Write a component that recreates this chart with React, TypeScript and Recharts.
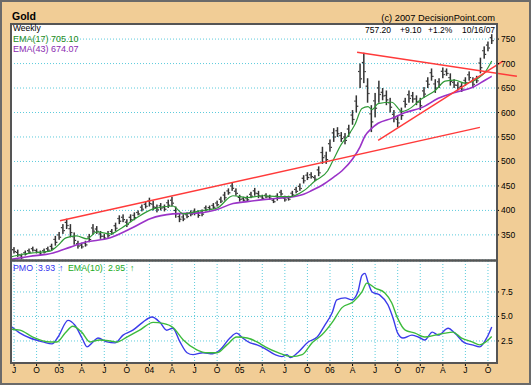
import React from 'react';
import { ComposedChart, Bar, Line, XAxis, YAxis, CartesianGrid, ReferenceLine } from 'recharts';

// x values are months since July 2002
const quarterTicks = [0, 3, 6, 9, 12, 15, 18, 21, 24, 27, 30, 33, 36, 39, 42, 45, 48, 51, 54, 57, 60, 63];
const quarterLabels = ['J', 'O', '03', 'A', 'J', 'O', '04', 'A', 'J', 'O', '05', 'A', 'J', 'O', '06', 'A', 'J', 'O', '07', 'A', 'J', 'O'];
const priceTicks = [350, 400, 450, 500, 550, 600, 650, 700, 750];
const pmoTicks = [2.5, 5, 7.5];

// half-month price bars starting mid-June 2002
const firstHalfMonth = -0.5;
const priceLow = [
  315, 312, 305, 300, 308, 312, 316, 312, 308, 312, 316, 318, 328, 340, 352, 362, 345, 330, 322, 322,
  326, 335, 350, 352, 342, 340, 344, 350, 358, 372, 376, 366, 376, 380, 390, 398, 404, 408, 400, 396,
  400, 398, 405, 408, 385, 376, 378, 384, 388, 390, 385, 388, 398, 400, 403, 408, 415, 420, 432, 440,
  430, 418, 418, 418, 425, 430, 425, 422, 425, 422, 415, 420, 430, 418, 420, 428, 435, 440, 455, 462,
  465, 460, 470, 495, 495, 520, 540, 550, 540, 535, 550, 575, 600, 650, 660, 620, 560, 590, 620, 625,
  615, 600, 580, 570, 585, 610, 620, 620, 615, 605, 630, 650, 665, 640, 650, 670, 675, 655, 650, 645,
  642, 655, 665, 650, 660, 680, 710, 725, 740,
];
const priceHigh = [
  327, 325, 320, 312, 318, 322, 326, 322, 318, 322, 326, 332, 348, 356, 372, 383, 372, 355, 338, 334,
  338, 352, 372, 368, 358, 352, 358, 362, 375, 390, 392, 382, 392, 396, 400, 412, 418, 426, 420, 412,
  415, 412, 422, 428, 408, 394, 392, 396, 400, 404, 400, 402, 410, 410, 415, 420, 428, 438, 445, 456,
  445, 432, 428, 430, 438, 446, 440, 432, 435, 432, 425, 435, 442, 430, 430, 440, 448, 455, 472, 478,
  478, 472, 490, 530, 520, 545, 568, 570, 560, 558, 575, 605, 635, 700, 722, 670, 615, 640, 665, 650,
  645, 630, 605, 595, 610, 630, 645, 642, 635, 630, 652, 672, 690, 668, 670, 692, 690, 680, 668, 662,
  660, 672, 684, 672, 675, 712, 735, 745, 760,
];

const ema17Months = [-0.4, 1, 3, 4.8, 5.8, 6.9, 8.3, 9.7, 11, 12.8, 14.1, 16.3, 18.5, 21.1, 22.5, 24.7, 27, 29.1, 31, 33.1, 35, 36.7, 38.5, 40, 41.7, 42.5, 43.5, 44.5, 45.3, 46.25, 47.05, 47.6, 48.4, 50.2, 51.6, 52.4, 54.2, 56, 57.3, 58.6, 59.9, 61.7, 62.6, 63.5];
const ema17Values = [305, 310, 314, 317, 328, 344, 348, 342, 356, 352, 362, 385, 403, 409, 393, 399, 405, 430, 426, 430, 428, 428, 440, 460, 481, 505, 535, 555, 575, 608, 612, 606, 618, 621, 602, 606, 628, 645, 664, 666, 660, 670, 682, 705.1];

const ema43Months = [-0.4, 2, 5.2, 7.5, 9.2, 12.8, 15.8, 18.1, 21.1, 24.7, 27, 29.1, 31, 33.1, 35, 36.7, 38.5, 39.5, 41.3, 42.5, 43.6, 45, 46, 46.65, 47.5, 48.4, 50.2, 52, 54.2, 56.4, 58.6, 60.9, 62.6, 63.5];
const ema43Values = [300, 306, 313, 325, 334, 344, 365, 383, 393, 395, 402, 414, 418, 422, 425, 427, 433, 440, 455, 468, 481, 505, 530, 552, 567, 578, 588, 600, 610, 629, 641, 651, 666, 674.07];

const pmoMonths = [-0.27, 0.8, 2.13, 3.85, 5.05, 5.85, 7.18, 8.1, 9.04, 9.7, 10.5, 11.16, 12.36, 13.42, 14.5, 15.8, 17.1, 18.34, 19.4, 20.3, 21.1, 22.06, 23, 23.8, 25.1, 26.4, 27.4, 28.7, 29.6, 30.4, 31.4, 32.3, 33.4, 34.7, 35.6, 36.3, 36.7, 37.7, 39.1, 40.3, 41.3, 42.3, 42.9, 44, 44.9, 45.7, 46.25, 46.65, 47.05, 47.6, 48.6, 49.7, 50.4, 51, 51.7, 52.9, 54, 54.6, 55.6, 56.4, 57.7, 58.6, 59.9, 60.9, 61.9, 62.9, 63.5];
const pmoValues = [3.93, 3.3, 2.8, 2.4, 2.2, 2.9, 4.6, 4.1, 2.8, 1.9, 2.4, 2.8, 2.4, 2.3, 3.1, 3.6, 4.4, 4.95, 4.4, 3.6, 3.8, 2.4, 1.3, 1.1, 1.3, 1.2, 1.6, 2.8, 3.3, 2.8, 2.3, 2.1, 1.7, 1.1, 0.9, 1.1, 0.8, 1.3, 2.4, 2.9, 4.1, 5.4, 6.7, 6.9, 6.7, 7.5, 9.2, 9.4, 8.5, 7.5, 7.2, 6.2, 4.8, 3.3, 2.8, 3.1, 2.8, 2.6, 3.4, 3.1, 3.8, 3.3, 2.3, 2.1, 1.9, 2.9, 3.93];

const pmoEmaMonths = [-0.27, 0.8, 2.5, 4.8, 5.7, 6.8, 7.8, 9, 10.1, 11.4, 12.8, 13.7, 15, 16.7, 18.5, 19.8, 21.1, 22.5, 24.3, 25.7, 27, 28.3, 29.6, 31, 32.3, 33.4, 35.1, 36.9, 38.3, 39.6, 40.9, 42.3, 43.6, 45.1, 46.25, 46.9, 48, 49.3, 50.2, 51, 52, 53.3, 54.6, 56, 57.3, 58.3, 59.5, 60.9, 61.9, 63.5];
const pmoEmaValues = [3.7, 3.6, 2.9, 2.4, 2.4, 3.3, 4, 3.4, 2.4, 2.6, 2.5, 2.4, 2.9, 3.6, 4.4, 4.3, 3.9, 2.6, 1.6, 1.3, 1.3, 2.1, 2.9, 2.8, 2.4, 1.9, 1.3, 0.9, 1.1, 2.3, 3.1, 4.4, 5.9, 6.5, 7.5, 8.4, 7.9, 7.4, 6.4, 4.8, 3.6, 3.3, 2.9, 3.1, 3.3, 3.4, 2.8, 2.4, 2.1, 2.95];

const trendLines = [
  { x1: 6.11, y1: 378.8, x2: 61.93, y2: 569.5 },
  { x1: 45.6, y1: 723, x2: 66.85, y2: 674 },
  { x1: 48.4, y1: 543, x2: 65.0, y2: 705 },
];

const priceData = priceLow.map((lo, i) => ({ m: firstHalfMonth + i * 0.5, range: [lo, priceHigh[i]] }));
const ema17Data = ema17Months.map((m, i) => ({ m, v: ema17Values[i] }));
const ema43Data = ema43Months.map((m, i) => ({ m, v: ema43Values[i] }));
const pmoData = pmoMonths.map((m, i) => ({ m, v: pmoValues[i] }));
const pmoEmaData = pmoEmaMonths.map((m, i) => ({ m, v: pmoEmaValues[i] }));

const X_DOMAIN: [number, number] = [-0.4, 64.2];
const FONT = 'Arial, "Liberation Sans", sans-serif';
const GRID = '#5ccbdc';

const tickStyle = { fontSize: 8.5, fill: '#000', fontFamily: FONT };

const PriceBarShape = (props: any) => {
  const { x, y, width, height } = props;
  if (x == null || y == null || !height) return null;
  const cx = x + width / 2;
  const top = Math.min(y, y + height);
  const h = Math.abs(height);
  return (
    <g>
      <rect x={cx - 0.75} y={top} width={1.5} height={h} fill="#333" />
      <rect x={cx - 2} y={top + h * 0.3} width={1.4} height={1.2} fill="#333" />
      <rect x={cx + 0.6} y={top + h * 0.6} width={1.4} height={1.2} fill="#333" />
    </g>
  );
};

export default function App() {
  return (
    <div style={{ position: 'fixed', left: 0, top: 0, width: 531, height: 385, background: '#f1cd96', overflow: 'hidden' }}>
      <div style={{ position: 'absolute', left: 0, top: 0 }}>
        <ComposedChart width={531} height={261} data={priceData} margin={{ top: 24, right: 0, bottom: 0, left: 11 }}>
          <CartesianGrid stroke={GRID} strokeDasharray="1 2" fill="#ffffff" fillOpacity={1} />
          <XAxis dataKey="m" type="number" domain={X_DOMAIN} ticks={quarterTicks} allowDataOverflow height={1} tick={false} axisLine={false} tickLine={false} />
          <YAxis orientation="right" type="number" domain={[298.7, 780.8]} ticks={priceTicks} allowDataOverflow width={34} tick={tickStyle} tickSize={2} tickMargin={2} axisLine={false} tickLine={{ stroke: '#000' }} interval={0} />
          <Bar dataKey="range" fill="#333" barSize={3} shape={PriceBarShape} isAnimationActive={false} />
          <Line data={ema43Data} dataKey="v" type="monotone" stroke="#9a33c8" strokeWidth={1.6} dot={false} isAnimationActive={false} />
          <Line data={ema17Data} dataKey="v" type="monotone" stroke="#2f9a37" strokeWidth={1.2} dot={false} isAnimationActive={false} />
          {trendLines.map((t, i) => (
            <ReferenceLine key={i} segment={[{ x: t.x1, y: t.y1 }, { x: t.x2, y: t.y2 }]} stroke="#ff3a3a" strokeWidth={1.4} ifOverflow="visible" />
          ))}
        </ComposedChart>
      </div>
      <div style={{ position: 'absolute', left: 0, top: 261 }}>
        <ComposedChart width={531} height={124} data={pmoData} margin={{ top: 0, right: 0, bottom: 0, left: 11 }}>
          <CartesianGrid stroke={GRID} strokeDasharray="1 2" fill="#ffffff" fillOpacity={1} />
          <XAxis dataKey="m" type="number" domain={X_DOMAIN} ticks={quarterTicks} allowDataOverflow height={22} interval={0}
            tickFormatter={(v: number) => quarterLabels[Math.round(v / 3)]} tick={tickStyle} tickSize={3} tickMargin={1} axisLine={false} tickLine={{ stroke: '#000' }} />
          <YAxis orientation="right" type="number" domain={[0.25, 10.66]} ticks={pmoTicks} allowDataOverflow width={34} interval={0}
            tickFormatter={(v: number) => v.toFixed(1)} tick={tickStyle} tickSize={2} tickMargin={2} axisLine={false} tickLine={{ stroke: '#000' }} />
          <Line dataKey="v" type="monotone" stroke="#3b3bea" strokeWidth={1.4} dot={false} isAnimationActive={false} />
          <Line data={pmoEmaData} dataKey="v" type="monotone" stroke="#3cbb3c" strokeWidth={1.4} dot={false} isAnimationActive={false} />
        </ComposedChart>
      </div>
      <svg width={531} height={385} style={{ position: 'absolute', left: 0, top: 0, pointerEvents: 'none' }}>
        <rect x={1} y={1} width={529} height={383} fill="none" stroke="#6a6a6a" strokeWidth={2} />
        <rect x={11} y={24} width={486} height={236.5} fill="none" stroke="#555" strokeWidth={2} />
        <rect x={11} y={260.5} width={486} height={102.5} fill="none" stroke="#555" strokeWidth={2} />
        <g fontFamily={FONT}>
          <text x={12} y={20} fontSize={10.5} fontWeight="bold" fill="#000">Gold</text>
          <text x={13} y={30.5} fontSize={8.5} fill="#000">Weekly</text>
          <text x={13} y={42} fontSize={9} fill="#228b22">EMA(17) 705.10</text>
          <text x={13} y={51.5} fontSize={9} fill="#8a2bb0">EMA(43) 674.07</text>
          <text x={495} y={20.5} fontSize={9.3} fill="#000" textAnchor="end">(c) 2007 DecisionPoint.com</text>
          <text x={365} y={32.5} fontSize={8.5} fill="#000">757.20</text>
          <text x={400} y={32.5} fontSize={8.5} fill="#000">+9.10</text>
          <text x={428} y={32.5} fontSize={8.5} fill="#000">+1.2%</text>
          <text x={462} y={32.5} fontSize={8.5} fill="#000">10/16/07</text>
          <text x={13} y={271} fontSize={8.8} fill="#3333ee">PMO</text>
          <text x={38} y={271} fontSize={8.8} fill="#3333ee">3.93</text>
          <text x={59} y={271} fontSize={8.8} fill="#3333ee" fontWeight="bold">↑</text>
          <text x={68} y={271} fontSize={8.8} fill="#22aa22">EMA(10)</text>
          <text x={108} y={271} fontSize={8.8} fill="#22aa22">2.95</text>
          <text x={130} y={271} fontSize={8.8} fill="#22aa22" fontWeight="bold">↑</text>
        </g>
      </svg>
    </div>
  );
}
